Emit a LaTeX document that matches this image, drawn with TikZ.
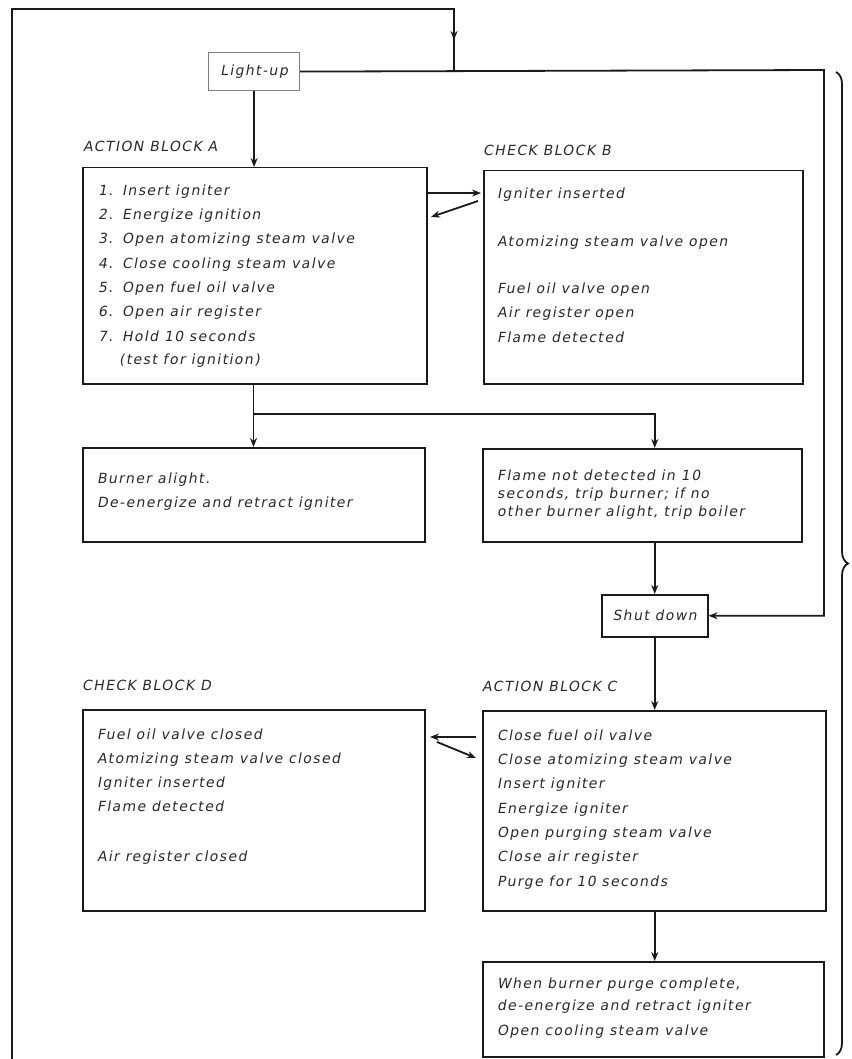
\documentclass[tikz,border=0pt]{standalone}
\usepackage{fontspec}
\setmainfont{DejaVu Sans}
\newfontfamily\letterfont[LetterSpace=10,FakeSlant=0.18]{DejaVu Sans}
\newcommand\lett{\letterfont\fontsize{14pt}{17pt}\selectfont}
\usetikzlibrary{arrows.meta,decorations.pathreplacing}
\definecolor{ink}{HTML}{1A1A1A}
\definecolor{txtink}{HTML}{2A2A2A}
\tikzset{
  box/.style={draw=ink, line width=1.5pt, anchor=north west, inner sep=0pt},
  txt/.style={anchor=west, inner sep=0pt, font=\lett, text=txtink, text height=10pt, text depth=3pt},
  lab/.style={txt},
  conn/.style={draw=ink, line width=1.8pt},
  arr/.style={conn, -{Stealth[length=9pt,width=7pt]}},
}
\begin{document}
\begin{tikzpicture}[x=1pt,y=-1pt]
\useasboundingbox (0,0) rectangle (851,1059);

% boxes
\node[box, draw=gray, line width=1.2pt, minimum width=91pt, minimum height=38pt, font=\lett, text=txtink] (L) at (208,52) {Light-up};
\node[box, minimum width=344pt, minimum height=216pt] (A) at (82,167) {};
\node[box, minimum width=319pt, minimum height=213pt] (B) at (483,170) {};
\node[box, minimum width=342pt, minimum height=94pt] (Bu) at (82,447) {};
\node[box, minimum width=319pt, minimum height=93pt] (F) at (482,448) {};
\node[box, minimum width=106pt, minimum height=42pt, font=\lett, text=txtink] (S) at (601,594) {Shut down};
\node[box, minimum width=343pt, minimum height=200pt] (C) at (482,710) {};
\node[box, minimum width=342pt, minimum height=201pt] (D) at (82,709) {};
\node[box, minimum width=341pt, minimum height=95pt] (E) at (482,961) {};

% labels
\node[lab] (la) at (83,148) {ACTION BLOCK A};
\node[lab] (lb) at (483,152) {CHECK BLOCK B};
\node[lab] (lc) at (482,688) {ACTION BLOCK C};
\node[lab] (ld) at (82,687) {CHECK BLOCK D};

% block A text
\node[txt] (a1n) at (98,192) {1.};  \node[txt] (a1) at (122,192) {Insert igniter};
\node[txt] (a2n) at (98,216) {2.};  \node[txt] (a2) at (122,216) {Energize ignition};
\node[txt] (a3n) at (98,240) {3.};  \node[txt] (a3) at (122,240) {Open atomizing steam valve};
\node[txt] (a4n) at (98,265) {4.};  \node[txt] (a4) at (122,265) {Close cooling steam valve};
\node[txt] (a5n) at (98,289) {5.};  \node[txt] (a5) at (122,289) {Open fuel oil valve};
\node[txt] (a6n) at (98,313) {6.};  \node[txt] (a6) at (122,313) {Open air register};
\node[txt] (a7n) at (98,338) {7.};  \node[txt] (a7) at (122,338) {Hold 10 seconds};
\node[txt] (a8) at (119,361) {(test for ignition)};

% block B text
\node[txt] (b1) at (497,195) {Igniter inserted};
\node[txt] (b2) at (497,243) {Atomizing steam valve open};
\node[txt] (b3) at (497,290) {Fuel oil valve open};
\node[txt] (b4) at (497,314) {Air register open};
\node[txt] (b5) at (497,339) {Flame detected};

% burner alight
\node[txt] (u1) at (97,480) {Burner alight.};
\node[txt] (u2) at (97,504) {De-energize and retract igniter};

% flame not detected
\node[txt] (f1) at (497,477) {Flame not detected in 10};
\node[txt] (f2) at (497,495) {seconds, trip burner; if no};
\node[txt] (f3) at (497,513) {other burner alight, trip boiler};

% block C text
\node[txt] (c1) at (497,737) {Close fuel oil valve};
\node[txt] (c2) at (497,761) {Close atomizing steam valve};
\node[txt] (c3) at (497,785) {Insert igniter};
\node[txt] (c4) at (497,810) {Energize igniter};
\node[txt] (c5) at (497,834) {Open purging steam valve};
\node[txt] (c6) at (497,858) {Close air register};
\node[txt] (c7) at (497,883) {Purge for 10 seconds};

% block D text
\node[txt] (d1) at (97,736) {Fuel oil valve closed};
\node[txt] (d2) at (97,760) {Atomizing steam valve closed};
\node[txt] (d3) at (97,784) {Igniter inserted};
\node[txt] (d4) at (97,808) {Flame detected};
\node[txt] (d5) at (97,858) {Air register closed};

% bottom box text
\node[txt] (e1) at (497,985) {When burner purge complete,};
\node[txt] (e2) at (497,1007) {de-energize and retract igniter};
\node[txt] (e3) at (497,1032) {Open cooling steam valve};

% coordinates
\coordinate (lbot) at (12,1059);
\coordinate (ltop) at (12,9);
\coordinate (rtop) at (454,9);
\coordinate (rmid) at (454,40);
\coordinate (jtop) at (454,70);
\coordinate (rc) at (824,70);
\coordinate (j1) at (253.5,414);
\coordinate (ab1) at (428,193);
\coordinate (ab2) at (481,193);
\coordinate (ab3) at (478,201);
\coordinate (ab4) at (431,217);
\coordinate (cd1) at (476,737);
\coordinate (cd2) at (430,737);
\coordinate (cd3) at (437,742);
\coordinate (cd4) at (476,758);

% connectors
\draw[conn] (lbot) -- (ltop) -- (rtop) -- (jtop);
\draw[arr] (rtop) -- (rmid);
\draw[arr] (L.east) -- (rc) |- (S.east);
\draw[arr] (L.south) -- (A.north -| L.south);
\draw[conn] (A.south -| j1) -- (j1);
\draw[arr] (j1) -- (Bu.north -| j1);
\draw[arr] (j1) -| (F.north -| S.north);
\draw[arr] (F.south -| S.north) -- (S.north);
\draw[arr] (S.south) -- (C.north -| S.south);
\draw[arr] (C.south -| S.south) -- (E.north -| S.south);
\draw[arr] (ab1) -- (ab2);
\draw[arr] (ab3) -- (ab4);
\draw[arr] (cd1) -- (cd2);
\draw[arr] (cd3) -- (cd4);

% brace
\draw[draw=ink, line width=1.8pt, decorate, decoration={brace, amplitude=12pt}] (836,72) -- (836,1055);
\end{tikzpicture}
\end{document}
